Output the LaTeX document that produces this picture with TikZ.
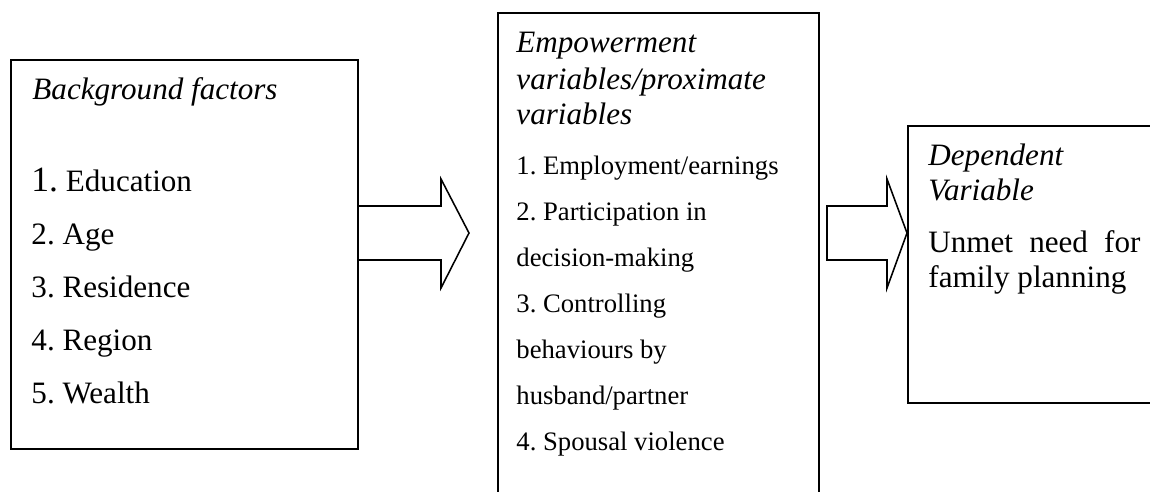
\documentclass[tikz,border=0pt]{standalone}
\usepackage{fontspec}
\setmainfont{Liberation Serif}
\frenchspacing
\usepackage{tikz}
\usetikzlibrary{calc}
\tikzset{%
    box/.style={draw, line width=0.9pt, anchor=north west, inner sep=0pt},
    title/.style={font=\fontsize{14}{16}\selectfont\itshape, anchor=base west, inner sep=0pt},
    item/.style={font=\fontsize{14}{16}\selectfont, anchor=base west, inner sep=0pt},
    smallitem/.style={font=\fontsize{12}{14}\selectfont, anchor=base west, inner sep=0pt},
    blockarrow/.style={draw, line width=0.7pt, line join=miter}
}

\begin{document}
\begin{tikzpicture}[x=0.45pt, y=-0.45pt]
  \useasboundingbox (0,0) rectangle (1150,492);
  \clip (0,0) rectangle (1150,492);

  % boxes
  \node[box, minimum width=156.15pt, minimum height=175.05pt] (bg) at (10,59) {};
  \node[box, minimum width=144.45pt, minimum height=237.6pt] (emp) at (497,12) {};
  \node[box, minimum width=122.85pt, minimum height=124.65pt] (dep) at (907,125) {};

  % background factors
  \node[title] (bgtitle) at (32,99) {Background factors};
  \node[item] (bg1) at (31,191) {{\fontsize{16}{18}\selectfont 1.} Education};
  \foreach \lbl [count=\i from 2] in {Age, Residence, Region, Wealth}
    \node[item] (bg\i) at (31,{191+53*(\i-1)}) {\i. \lbl};

  % empowerment variables
  \foreach \lbl [count=\i] in {Empowerment, variables/proximate, variables}
    \node[title] (emptitle\i) at (516,{17+36*\i}) {\lbl};
  \foreach \lbl [count=\i] in {1. Employment/earnings, 2. Participation in,
      decision-making, 3. Controlling, behaviours by, husband/partner,
      4. Spousal violence}
    \node[smallitem] (emp\i) at (516,{128+46*\i}) {\lbl};

  % dependent variable
  \node[title] (deptitle1) at (928,165) {Dependent};
  \node[title] (deptitle2) at (928,200) {Variable};
  \node[item] (dep1) at (928,252) {\makebox[95.4pt][s]{Unmet need for}};
  \node[item] (dep2) at (928,287) {family planning};

  % block arrows
  \draw[blockarrow] (bg.east |- 0,206) -- (441,206) -- (441,179) -- (469,233)
    -- (441,288) -- (441,260) -- (bg.east |- 0,260);
  \draw[blockarrow] (827,206) -- (887,206) -- (887,179) -- (dep.west |- 0,233)
    -- (887,288) -- (887,260) -- (827,260) -- cycle;
\end{tikzpicture}
\end{document}
